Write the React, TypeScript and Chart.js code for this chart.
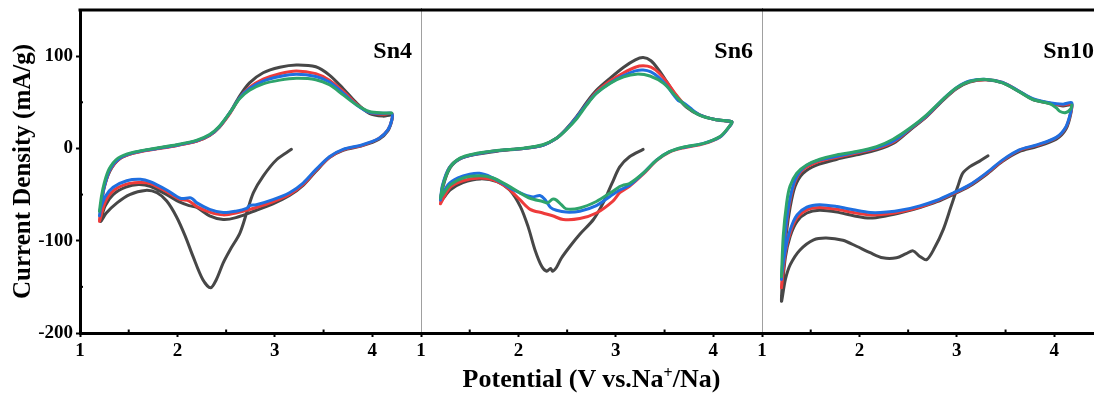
import React, { useEffect, useRef } from 'react';
import { Chart, registerables } from 'chart.js';

Chart.register(...registerables);

type Pt = [number, number];

// ---------- axis data ----------
const xTicks = [1, 2, 3, 4];
const xMinorTicks = [1.5, 2.5, 3.5];
const yTicks = [-200, -100, 0, 100];
const yMinorTicks = [-150, -50, 50];
const panelLabels = ['Sn4', 'Sn6', 'Sn10'];
const seriesNames = ['cycle 1', 'cycle 2', 'cycle 3', 'cycle 4'];

// ---------- Sn4 ----------
const sn4Gray: Pt[] = [
  [3.17, -1], [3.02, -12], [2.88, -30], [2.78, -48], [2.71, -70], [2.64, -92], [2.54, -110], [2.47, -124],
  [2.4, -142], [2.34, -151], [2.26, -142], [2.16, -117], [2.08, -95], [1.99, -74], [1.89, -57], [1.79, -48],
  [1.67, -45.5], [1.51, -50], [1.38, -59], [1.27, -70], [1.21, -79],
  [1.22, -62], [1.24, -45], [1.31, -24], [1.41, -11], [1.55, -5], [1.79, 0], [1.99, 3.5], [2.2, 8], [2.33, 14],
  [2.43, 23], [2.54, 39], [2.64, 57], [2.74, 71], [2.88, 82], [3.05, 88], [3.22, 90.5], [3.42, 88.5],
  [3.56, 79.5], [3.7, 65], [3.84, 49], [3.97, 38], [4.11, 35], [4.2, 36],
  [4.2, 30], [4.16, 19], [4.07, 10], [3.9, 3], [3.7, -2], [3.56, -10], [3.42, -25], [3.29, -40], [3.15, -51],
  [2.98, -60], [2.81, -67], [2.6, -75], [2.47, -77], [2.33, -73], [2.2, -64], [2.12, -62], [2.02, -58],
  [1.89, -50], [1.72, -41], [1.6, -39], [1.47, -42], [1.34, -50], [1.26, -62], [1.21, -78],
];
const sn4Red: Pt[] = [
  [1.2, -78], [1.22, -60], [1.25, -42], [1.31, -23], [1.41, -11], [1.55, -5], [1.79, -0.5], [1.99, 3], [2.2, 8],
  [2.33, 14], [2.43, 23], [2.54, 38], [2.64, 55], [2.74, 66], [2.88, 75], [3.05, 81], [3.22, 84], [3.42, 81],
  [3.56, 74], [3.7, 62], [3.84, 48], [3.97, 39], [4.11, 37], [4.2, 38],
  [4.2, 31], [4.16, 20], [4.07, 11], [3.9, 3.5], [3.7, -1.5], [3.56, -9.5], [3.42, -24], [3.29, -39], [3.15, -50],
  [2.98, -58], [2.81, -64], [2.6, -70], [2.47, -72], [2.33, -69], [2.2, -63], [2.12, -57], [2.02, -55],
  [1.89, -47], [1.72, -38], [1.6, -37], [1.47, -39], [1.34, -46], [1.26, -58], [1.2, -79],
];
const sn4Blue: Pt[] = [
  [1.2, -73], [1.22, -58], [1.25, -41], [1.31, -22], [1.41, -10.5], [1.55, -4.5], [1.79, 0], [1.99, 3.5],
  [2.2, 8.5], [2.33, 14.5], [2.43, 23.5], [2.54, 39], [2.64, 55], [2.74, 65], [2.88, 73], [3.05, 78],
  [3.22, 80.5], [3.42, 78], [3.56, 72], [3.7, 60], [3.84, 47], [3.97, 39], [4.11, 38], [4.2, 38],
  [4.2, 31], [4.16, 20], [4.07, 11], [3.9, 4], [3.7, -1], [3.56, -9], [3.42, -23], [3.29, -37.5], [3.15, -48],
  [2.98, -55.5], [2.81, -61], [2.74, -62], [2.71, -65], [2.6, -68], [2.47, -69.5], [2.33, -66], [2.2, -59],
  [2.16, -55], [2.13, -53.5], [2.03, -54], [1.89, -45], [1.72, -36], [1.62, -33.5], [1.48, -35], [1.34, -42],
  [1.26, -52], [1.2, -68],
];
const sn4Green: Pt[] = [
  [1.2, -68], [1.22, -52], [1.25, -37], [1.3, -22], [1.39, -10.5], [1.53, -4.5], [1.79, 0.5], [1.99, 4],
  [2.2, 9], [2.33, 15], [2.43, 24], [2.54, 39], [2.64, 54], [2.74, 63], [2.88, 70], [3.05, 74], [3.22, 76],
  [3.42, 74.5], [3.56, 69], [3.7, 58], [3.84, 47], [3.97, 40], [4.11, 38.5], [4.2, 38.5],
];

// ---------- Sn6 ----------
const sn6Gray: Pt[] = [
  [3.28, -1], [3.14, -9], [3.04, -20], [2.96, -38], [2.87, -59], [2.77, -77], [2.63, -93], [2.53, -106],
  [2.44, -119], [2.39, -129], [2.35, -133], [2.33, -130], [2.29, -133], [2.24, -128], [2.17, -110], [2.1, -85],
  [2.02, -63], [1.91, -45], [1.78, -36], [1.61, -33], [1.43, -37], [1.3, -45], [1.21, -56],
  [1.23, -40], [1.3, -21], [1.4, -11.5], [1.54, -7], [1.78, -3], [2.05, 0], [2.25, 3.5], [2.39, 11], [2.49, 21],
  [2.6, 35], [2.7, 50], [2.8, 63], [2.94, 76], [3.08, 88], [3.2, 96], [3.28, 98.5], [3.36, 95], [3.44, 85],
  [3.53, 71], [3.62, 57], [3.72, 45], [3.86, 36], [4.03, 31], [4.19, 29],
];
const sn6Red: Pt[] = [
  [1.2, -60], [1.22, -42], [1.29, -21], [1.4, -11], [1.54, -6.5], [1.78, -2.5], [2.05, 0], [2.25, 3.5],
  [2.39, 11], [2.49, 20.5], [2.6, 34], [2.7, 48], [2.8, 61], [2.94, 73], [3.08, 82], [3.2, 88], [3.28, 89.5],
  [3.36, 88], [3.44, 82], [3.53, 71], [3.62, 58], [3.72, 46], [3.86, 36.5], [4.03, 31], [4.19, 29],
  [4.15, 21.5], [4.07, 12.5], [3.9, 5], [3.69, 0.5], [3.55, -4], [3.42, -13], [3.28, -28], [3.14, -41],
  [3.04, -48], [2.97, -57], [2.8, -70], [2.63, -76], [2.46, -77], [2.35, -73], [2.25, -70], [2.12, -66],
  [2.02, -56], [1.88, -42], [1.74, -34], [1.6, -32], [1.43, -35], [1.3, -42], [1.2, -60],
];
const sn6Blue: Pt[] = [
  [1.2, -56], [1.22, -40], [1.29, -21], [1.4, -11], [1.54, -6.5], [1.78, -2.5], [2.05, 0], [2.25, 3.5],
  [2.39, 11], [2.49, 20.5], [2.6, 34], [2.7, 48], [2.8, 60], [2.94, 71], [3.08, 79], [3.2, 84], [3.28, 85],
  [3.36, 83], [3.44, 77], [3.53, 67], [3.6, 57], [3.64, 52], [3.7, 49], [3.76, 44], [3.86, 36.5], [4.03, 31],
  [4.19, 29],
  [4.15, 21.5], [4.07, 12.5], [3.9, 5.5], [3.69, 1], [3.55, -3.5], [3.42, -12.5], [3.28, -27], [3.14, -40],
  [3.04, -45], [2.94, -52], [2.8, -62], [2.63, -68], [2.49, -69], [2.39, -67], [2.33, -64], [2.27, -55],
  [2.22, -51], [2.15, -52.5], [2.06, -50], [1.95, -45], [1.84, -38], [1.72, -31], [1.6, -27], [1.5, -28],
  [1.38, -32], [1.28, -39], [1.2, -54],
];
const sn6Green: Pt[] = [
  [1.2, -54], [1.23, -38], [1.3, -20], [1.4, -10.5], [1.54, -6], [1.78, -2.3], [2.05, 0.2], [2.25, 4],
  [2.39, 11], [2.49, 20], [2.6, 32.5], [2.7, 47], [2.8, 59.5], [2.94, 70.5], [3.08, 77.5], [3.21, 80.5],
  [3.35, 78.5], [3.49, 70.5], [3.62, 56], [3.73, 45], [3.86, 36], [4.03, 31], [4.19, 29],
  [4.15, 22], [4.07, 13], [3.9, 5.5], [3.69, 1.3], [3.55, -3.5], [3.42, -12.4], [3.28, -26.8], [3.14, -38],
  [3.07, -40], [3.04, -41.3], [2.94, -48.4], [2.8, -57.5], [2.63, -64.5], [2.49, -65.5], [2.44, -61],
  [2.39, -56], [2.35, -55], [2.3, -59], [2.25, -57.5], [2.12, -54], [2.02, -48.4], [1.88, -39.5],
  [1.74, -32], [1.6, -29.7], [1.43, -32], [1.3, -39.5], [1.21, -52],
];

// ---------- Sn10 ----------
const sn10Gray: Pt[] = [
  [3.32, -8], [3.23, -14], [3.13, -20], [3.06, -27], [3.01, -41], [2.94, -63], [2.86, -88], [2.77, -108],
  [2.69, -120.5], [2.62, -117], [2.55, -111], [2.48, -114], [2.38, -118.5], [2.24, -118.5], [2.11, -113],
  [1.97, -106], [1.83, -99.5], [1.66, -97], [1.53, -99], [1.39, -110], [1.29, -126], [1.24, -142],
  [1.2, -165.6],
  [1.22, -128], [1.25, -92], [1.29, -63], [1.34, -41], [1.42, -27], [1.56, -18], [1.77, -11.7], [1.97, -7],
  [2.18, -1.6], [2.35, 5.6], [2.52, 20], [2.69, 34.4], [2.86, 52.4], [3.0, 65], [3.13, 72], [3.3, 74.5],
  [3.47, 71], [3.64, 61.5], [3.78, 53], [3.95, 49], [4.09, 46], [4.17, 47],
  [4.17, 38], [4.12, 21], [4.02, 10], [3.82, 2], [3.64, -3.5], [3.47, -14], [3.3, -28.5], [3.13, -41],
  [2.96, -50], [2.79, -58], [2.62, -64], [2.45, -69], [2.28, -73], [2.11, -75.5], [1.94, -73], [1.77, -69],
  [1.59, -67], [1.46, -70], [1.36, -79], [1.29, -95], [1.24, -118], [1.2, -160],
];
const sn10Red: Pt[] = [
  [1.2, -151], [1.22, -120], [1.25, -84], [1.29, -56], [1.34, -36], [1.42, -23], [1.56, -15], [1.77, -9.5],
  [1.97, -5], [2.18, 0], [2.35, 7], [2.52, 21], [2.69, 35], [2.86, 53], [3.0, 65.5], [3.13, 72.5], [3.3, 74.5],
  [3.47, 71.5], [3.64, 62], [3.78, 53.5], [3.95, 49], [4.09, 47], [4.18, 48],
  [4.17, 39], [4.12, 23], [4.02, 11.5], [3.82, 3.3], [3.64, -2], [3.47, -13], [3.3, -27.5], [3.13, -40],
  [2.96, -49], [2.79, -57], [2.62, -63.5], [2.45, -68], [2.28, -71], [2.11, -72], [1.94, -69.5], [1.77, -66],
  [1.59, -64], [1.46, -66.5], [1.36, -75], [1.29, -91], [1.24, -113], [1.2, -151],
];
const sn10Blue: Pt[] = [
  [1.2, -142], [1.22, -112], [1.25, -80], [1.29, -53], [1.34, -34], [1.42, -21.5], [1.56, -13.5],
  [1.77, -8.5], [1.97, -4], [2.18, 1], [2.35, 8], [2.52, 21.5], [2.69, 35.5], [2.86, 53.5], [3.0, 66],
  [3.13, 73], [3.3, 74.8], [3.47, 71.5], [3.64, 62], [3.78, 54], [3.95, 49.5], [4.09, 48], [4.18, 49.5],
  [4.17, 40], [4.12, 23.6], [4.02, 12], [3.82, 3.8], [3.64, -1.6], [3.47, -12.4], [3.3, -26.8], [3.13, -39.5],
  [2.96, -48.4], [2.79, -56.4], [2.62, -62.2], [2.45, -66.5], [2.28, -69], [2.11, -69.4], [1.94, -66.5],
  [1.77, -63], [1.59, -61], [1.46, -63.6], [1.36, -72], [1.29, -88], [1.24, -110], [1.2, -139],
];
const sn10Green: Pt[] = [
  [1.2, -139], [1.218, -95], [1.253, -59], [1.287, -41], [1.355, -27], [1.458, -18], [1.594, -11.7],
  [1.765, -7], [1.97, -3.4], [2.175, 2], [2.345, 10], [2.516, 21.8], [2.687, 36.2], [2.86, 53.5], [3.0, 66],
  [3.13, 72.5], [3.3, 74.8], [3.47, 71], [3.64, 61.5], [3.78, 53], [3.95, 48.5], [4.02, 44], [4.06, 40],
  [4.12, 39], [4.17, 43], [4.18, 47],
];

const panels: Pt[][][] = [
  [sn4Gray, sn4Red, sn4Blue, sn4Green],
  [sn6Gray, sn6Red, sn6Blue, sn6Green],
  [sn10Gray, sn10Red, sn10Blue, sn10Green],
];

// ---------- styles ----------
const COLORS = ['#474747', '#EE3B3B', '#1F6FE0', '#2EA46B'];
const FONT = '"Liberation Serif", "Times New Roman", serif';
const H = 394;

const framePlugin = {
  id: 'frame',
  afterDraw(chart: any, _args: any, opts: any) {
    const { ctx, chartArea: a, scales } = chart;
    const xs = scales.x;
    const ys = scales.y;
    ctx.save();
    // top frame line
    ctx.strokeStyle = '#000';
    ctx.lineWidth = 3;
    ctx.beginPath();
    ctx.moveTo(a.left - (opts.first ? 1.5 : 0), a.top);
    ctx.lineTo(a.right + 1, a.top);
    ctx.stroke();
    // divider to next panel
    ctx.strokeStyle = '#a0a0a0';
    ctx.lineWidth = 1;
    ctx.beginPath();
    ctx.moveTo(Math.round(a.right) + 0.5, a.top + 1);
    ctx.lineTo(Math.round(a.right) + 0.5, a.bottom - 1);
    ctx.stroke();
    // minor ticks
    ctx.strokeStyle = '#000';
    ctx.lineWidth = 2;
    for (const v of xMinorTicks) {
      const px = xs.getPixelForValue(v);
      ctx.beginPath();
      ctx.moveTo(px, a.bottom);
      ctx.lineTo(px, a.bottom - 3.5);
      ctx.stroke();
    }
    if (opts.first) {
      for (const v of yMinorTicks) {
        const py = ys.getPixelForValue(v);
        ctx.beginPath();
        ctx.moveTo(a.left, py);
        ctx.lineTo(a.left + 3, py);
        ctx.stroke();
      }
    }
    // panel label
    ctx.fillStyle = '#000';
    ctx.font = `bold 24px ${FONT}`;
    ctx.textAlign = 'right';
    ctx.textBaseline = 'alphabetic';
    ctx.fillText(opts.label, a.right - 9, 58);
    ctx.restore();
  },
};

function Panel({ index, left, width }: { index: number; left: number; width: number }) {
  const ref = useRef<HTMLCanvasElement>(null);
  useEffect(() => {
    const first = index === 0;
    const series = panels[index];
    const orders = [4, 3, 2, 1];
    const chart = new Chart(ref.current as HTMLCanvasElement, {
      type: 'scatter',
      data: {
        datasets: series.map((s, i) => ({
          label: seriesNames[i],
          data: s.map(([x, y]) => ({ x, y })),
          showLine: true,
          borderColor: COLORS[i],
          backgroundColor: COLORS[i],
          borderWidth: 3,
          pointRadius: 0,
          pointHoverRadius: 0,
          tension: 0.3,
          fill: false,
          borderCapStyle: 'round',
          borderJoinStyle: 'round',
          order: orders[i],
        })),
      },
      options: {
        responsive: false,
        maintainAspectRatio: false,
        animation: false,
        events: [],
        layout: { padding: { left: first ? 0 : 10, right: 10, top: 10, bottom: 0 } },
        plugins: {
          legend: { display: false },
          tooltip: { enabled: false },
          frame: { label: panelLabels[index], first },
        } as any,
        scales: {
          x: {
            type: 'linear',
            min: 1,
            max: 4.5,
            afterBuildTicks: (s: any) => {
              s.ticks = xTicks.map((v) => ({ value: v }));
            },
            afterFit: (s: any) => {
              s.height = 61;
              s.paddingLeft = 0;
              s.paddingRight = 0;
            },
            ticks: {
              color: '#000',
              font: { family: FONT, size: 19, weight: 'bold' },
              padding: 3,
              maxRotation: 0,
              autoSkip: false,
              callback: (v: any) => String(v),
            },
            grid: { drawOnChartArea: false, drawTicks: true, tickLength: 4, tickWidth: 2, tickColor: '#000' },
            border: { display: true, color: '#000', width: 3 },
          },
          y: {
            type: 'linear',
            display: first,
            min: -200,
            max: 150,
            afterBuildTicks: (s: any) => {
              s.ticks = yTicks.map((v) => ({ value: v }));
            },
            afterFit: (s: any) => {
              s.width = first ? 80 : 0;
              s.paddingTop = 0;
              s.paddingBottom = 0;
            },
            ticks: {
              color: '#000',
              font: { family: FONT, size: 19, weight: 'bold' },
              padding: 3,
              autoSkip: false,
              callback: (v: any) => String(v),
            },
            grid: { drawOnChartArea: false, drawTicks: true, tickLength: 4, tickWidth: 2, tickColor: '#000' },
            border: { display: true, color: '#000', width: 3 },
            title: {
              display: true,
              text: 'Current Density (mA/g)',
              color: '#000',
              font: { family: FONT, size: 25, weight: 'bold' },
              padding: { top: 9, bottom: 0 },
            },
          },
        },
      } as any,
      plugins: [framePlugin as any],
    });
    return () => chart.destroy();
  }, [index]);
  return (
    <canvas
      ref={ref}
      width={width}
      height={H}
      style={{ position: 'absolute', left, top: 0, width, height: H, display: 'block' }}
    />
  );
}

export default function App() {
  return (
    <div
      style={{
        position: 'absolute',
        left: 0,
        top: 0,
        width: 1094,
        height: H,
        overflow: 'hidden',
        background: '#fff',
      }}
    >
      <Panel index={0} left={0} width={431} />
      <Panel index={1} left={411} width={361} />
      <Panel index={2} left={752} width={361} />
      <div
        style={{
          position: 'absolute',
          left: 421,
          width: 341,
          top: 364,
          textAlign: 'center',
          font: `bold 26px ${FONT}`,
          lineHeight: '30px',
          whiteSpace: 'nowrap',
          color: '#000',
        }}
      >
        Potential (V vs.Na
        <span style={{ fontSize: 16, position: 'relative', top: -9 }}>+</span>
        /Na)
      </div>
    </div>
  );
}
